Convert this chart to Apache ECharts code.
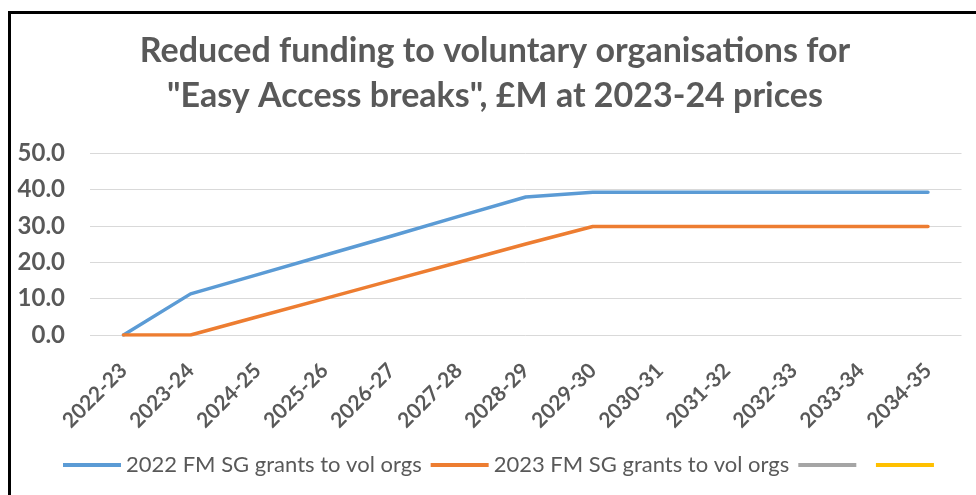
<!DOCTYPE html>
<html>
<head>
<meta charset="utf-8">
<script src="https://cdn.jsdelivr.net/npm/echarts@6/dist/echarts.min.js"></script>
<style>
html,body{margin:0;padding:0;background:#fff;}
#chart{width:976px;height:495px;}
</style>
</head>
<body>
<div id="chart"></div>
<script>
var titleText = 'Reduced funding to voluntary organisations for\n"Easy Access breaks", £M at 2023-24 prices';
var categories = ['2022-23','2023-24','2024-25','2025-26','2026-27','2027-28','2028-29','2029-30','2030-31','2031-32','2032-33','2033-34','2034-35'];
var series2022Name = '2022 FM SG grants to vol orgs';
var series2022 = [0, 11.3, 16.6, 21.9, 27.2, 32.6, 37.9, 39.2, 39.2, 39.2, 39.2, 39.2, 39.2];
var series2023Name = '2023 FM SG grants to vol orgs';
var series2023 = [0, 0, 5, 10, 15, 20, 25, 29.8, 29.8, 29.8, 29.8, 29.8, 29.8];
var series3Name = ' ';
var series3 = [];
var series4Name = '  ';
var series4 = [];
var yTicks = {min: 0, max: 50, interval: 10};

var chart = echarts.init(document.getElementById('chart'));
var grey = '#595959';
var font = 'Lato, "Open Sans", sans-serif';
function lineSeries(name, data, color) {
  return {
    name: name, type: 'line', data: data, symbol: 'none', showSymbol: false,
    lineStyle: {color: color, width: 3.5, cap: 'round', join: 'round'},
    itemStyle: {color: color}, animation: false
  };
}
chart.setOption({
  animation: false,
  backgroundColor: '#fff',
  title: {
    text: titleText, left: 495, top: 29, textAlign: 'center', padding: 0,
    textStyle: {fontFamily: font, fontWeight: 'bold', fontSize: 34, lineHeight: 45, color: grey}
  },
  graphic: [{
    type: 'rect', shape: {x: 9.5, y: 12.5, width: 1000, height: 600},
    style: {fill: 'none', stroke: '#000', lineWidth: 3}, silent: true, z: 100
  }],
  grid: {left: 90, right: 14.5, top: 153, bottom: 160, containLabel: false},
  legend: {
    left: 63, top: 454, itemWidth: 58, itemHeight: 4, itemGap: 9, icon: 'rect',
    padding: 0,
    textStyle: {fontFamily: font, fontSize: 22, color: grey},
    data: [series2022Name, series2023Name, series3Name, series4Name]
  },
  xAxis: {
    type: 'category', data: categories, boundaryGap: true,
    axisLine: {show: false}, axisTick: {show: false},
    axisLabel: {interval: 0, rotate: 45, margin: 32, fontFamily: font, fontWeight: 'bold', fontSize: 21, color: grey}
  },
  yAxis: {
    type: 'value', min: yTicks.min, max: yTicks.max, interval: yTicks.interval,
    axisLine: {show: false}, axisTick: {show: false},
    splitLine: {lineStyle: {color: '#d9d9d9', width: 1}},
    axisLabel: {margin: 25, fontFamily: font, fontWeight: 'bold', fontSize: 24, color: grey,
      formatter: function (v) { return v.toFixed(1); }}
  },
  series: [
    lineSeries(series2022Name, series2022, '#5B9BD5'),
    lineSeries(series2023Name, series2023, '#ED7D31'),
    lineSeries(series3Name, series3, '#A5A5A5'),
    lineSeries(series4Name, series4, '#FFC000')
  ]
});
</script>
</body>
</html>
